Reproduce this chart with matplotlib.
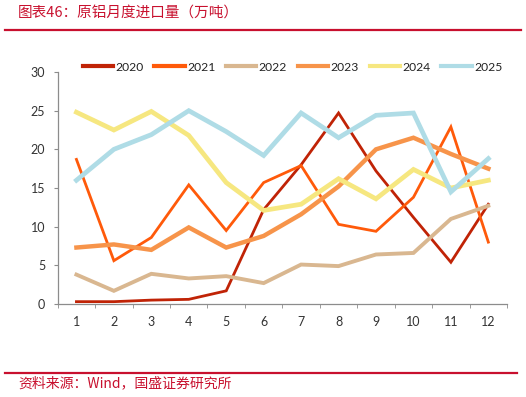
import matplotlib
matplotlib.use("Agg")
import matplotlib.pyplot as plt
from matplotlib.lines import Line2D

plt.rcParams["font.family"] = ["Lato", "Noto Sans CJK SC", "DejaVu Sans"]

months = list(range(1, 13))
y2020 = [0.3, 0.3, 0.5, 0.6, 1.7, 12.2, 18.0, 24.7, 17.2, 11.2, 5.4, 12.9]
y2021 = [18.7, 5.6, 8.6, 15.4, 9.5, 15.7, 17.9, 10.3, 9.4, 13.8, 22.9, 8.0]
y2022 = [3.8, 1.7, 3.9, 3.3, 3.6, 2.7, 5.1, 4.9, 6.4, 6.6, 11.0, 12.7]
y2023 = [7.3, 7.7, 7.0, 9.9, 7.3, 8.8, 11.6, 15.2, 20.0, 21.5, 19.4, 17.5]
y2024 = [24.8, 22.5, 24.9, 21.8, 15.7, 12.1, 12.9, 16.2, 13.6, 17.4, 15.0, 16.0]
y2025 = [16.0, 20.0, 21.9, 25.0, 22.3, 19.2, 24.7, 21.5, 24.4, 24.7, 14.5, 18.8]
years = ["2020", "2021", "2022", "2023", "2024", "2025"]
series = [y2020, y2021, y2022, y2023, y2024, y2025]
colors = ["#C02306", "#FF5A0A", "#D9B790", "#F7944A", "#F6E780", "#AFDCE6"]
widths = [2.0, 2.0, 2.8, 3.2, 3.4, 3.4]

RED = "#C8102E"

fig = plt.figure(figsize=(5.26, 3.97), dpi=100)
ax = fig.add_axes([0.1097, 0.2343, 0.964 - 0.1097, 0.8186 - 0.2343])

for name, vals, c, w in zip(years, series, colors, widths):
    ax.plot(months, vals, color=c, lw=w, label=name, solid_joinstyle="miter")

ax.set_xlim(0.5, 12.5)
ax.set_ylim(0, 30)
ax.set_xticks(months)
ax.set_xticks([m + 0.5 for m in range(0, 13)], minor=True)
ax.set_yticks(range(0, 31, 5))
for s in ["top", "right"]:
    ax.spines[s].set_visible(False)
for s in ["left", "bottom"]:
    ax.spines[s].set_color("#8C8C8C")
    ax.spines[s].set_linewidth(0.9)
ax.tick_params(axis="x", which="major", length=0, pad=9, labelsize=9, labelcolor="#333333")
ax.tick_params(axis="x", which="minor", length=3, color="#8C8C8C", direction="out")
ax.tick_params(axis="y", length=3, color="#8C8C8C", pad=6, labelsize=9, labelcolor="#333333")

handles = [Line2D([], [], color=c, lw=3) for c in colors]
fig.legend(handles, years, loc="center", bbox_to_anchor=(0.556, 0.831), ncol=6,
           frameon=False, fontsize=8.7, handlelength=2.5, handletextpad=0.2,
           columnspacing=0.9, borderpad=0, labelcolor="#222222")

fig.text(0.034, 0.968, "图表46：原铝月度进口量（万吨）", color=RED, fontsize=10.5,
         family=["Noto Sans CJK SC", "DejaVu Sans"], va="center", ha="left")
fig.add_artist(Line2D([0.01, 0.99], [1 - 30 / 397, 1 - 30 / 397], color=RED, lw=1.6))
fig.add_artist(Line2D([0.01, 0.983], [1 - 373 / 397, 1 - 373 / 397], color=RED, lw=1.6))
fig.text(0.034, 1 - 383 / 397, "资料来源：Wind，国盛证券研究所", color=RED, fontsize=10,
         family=["Noto Sans CJK SC", "DejaVu Sans"], va="center", ha="left")

fig.savefig("out.png", dpi=100)
